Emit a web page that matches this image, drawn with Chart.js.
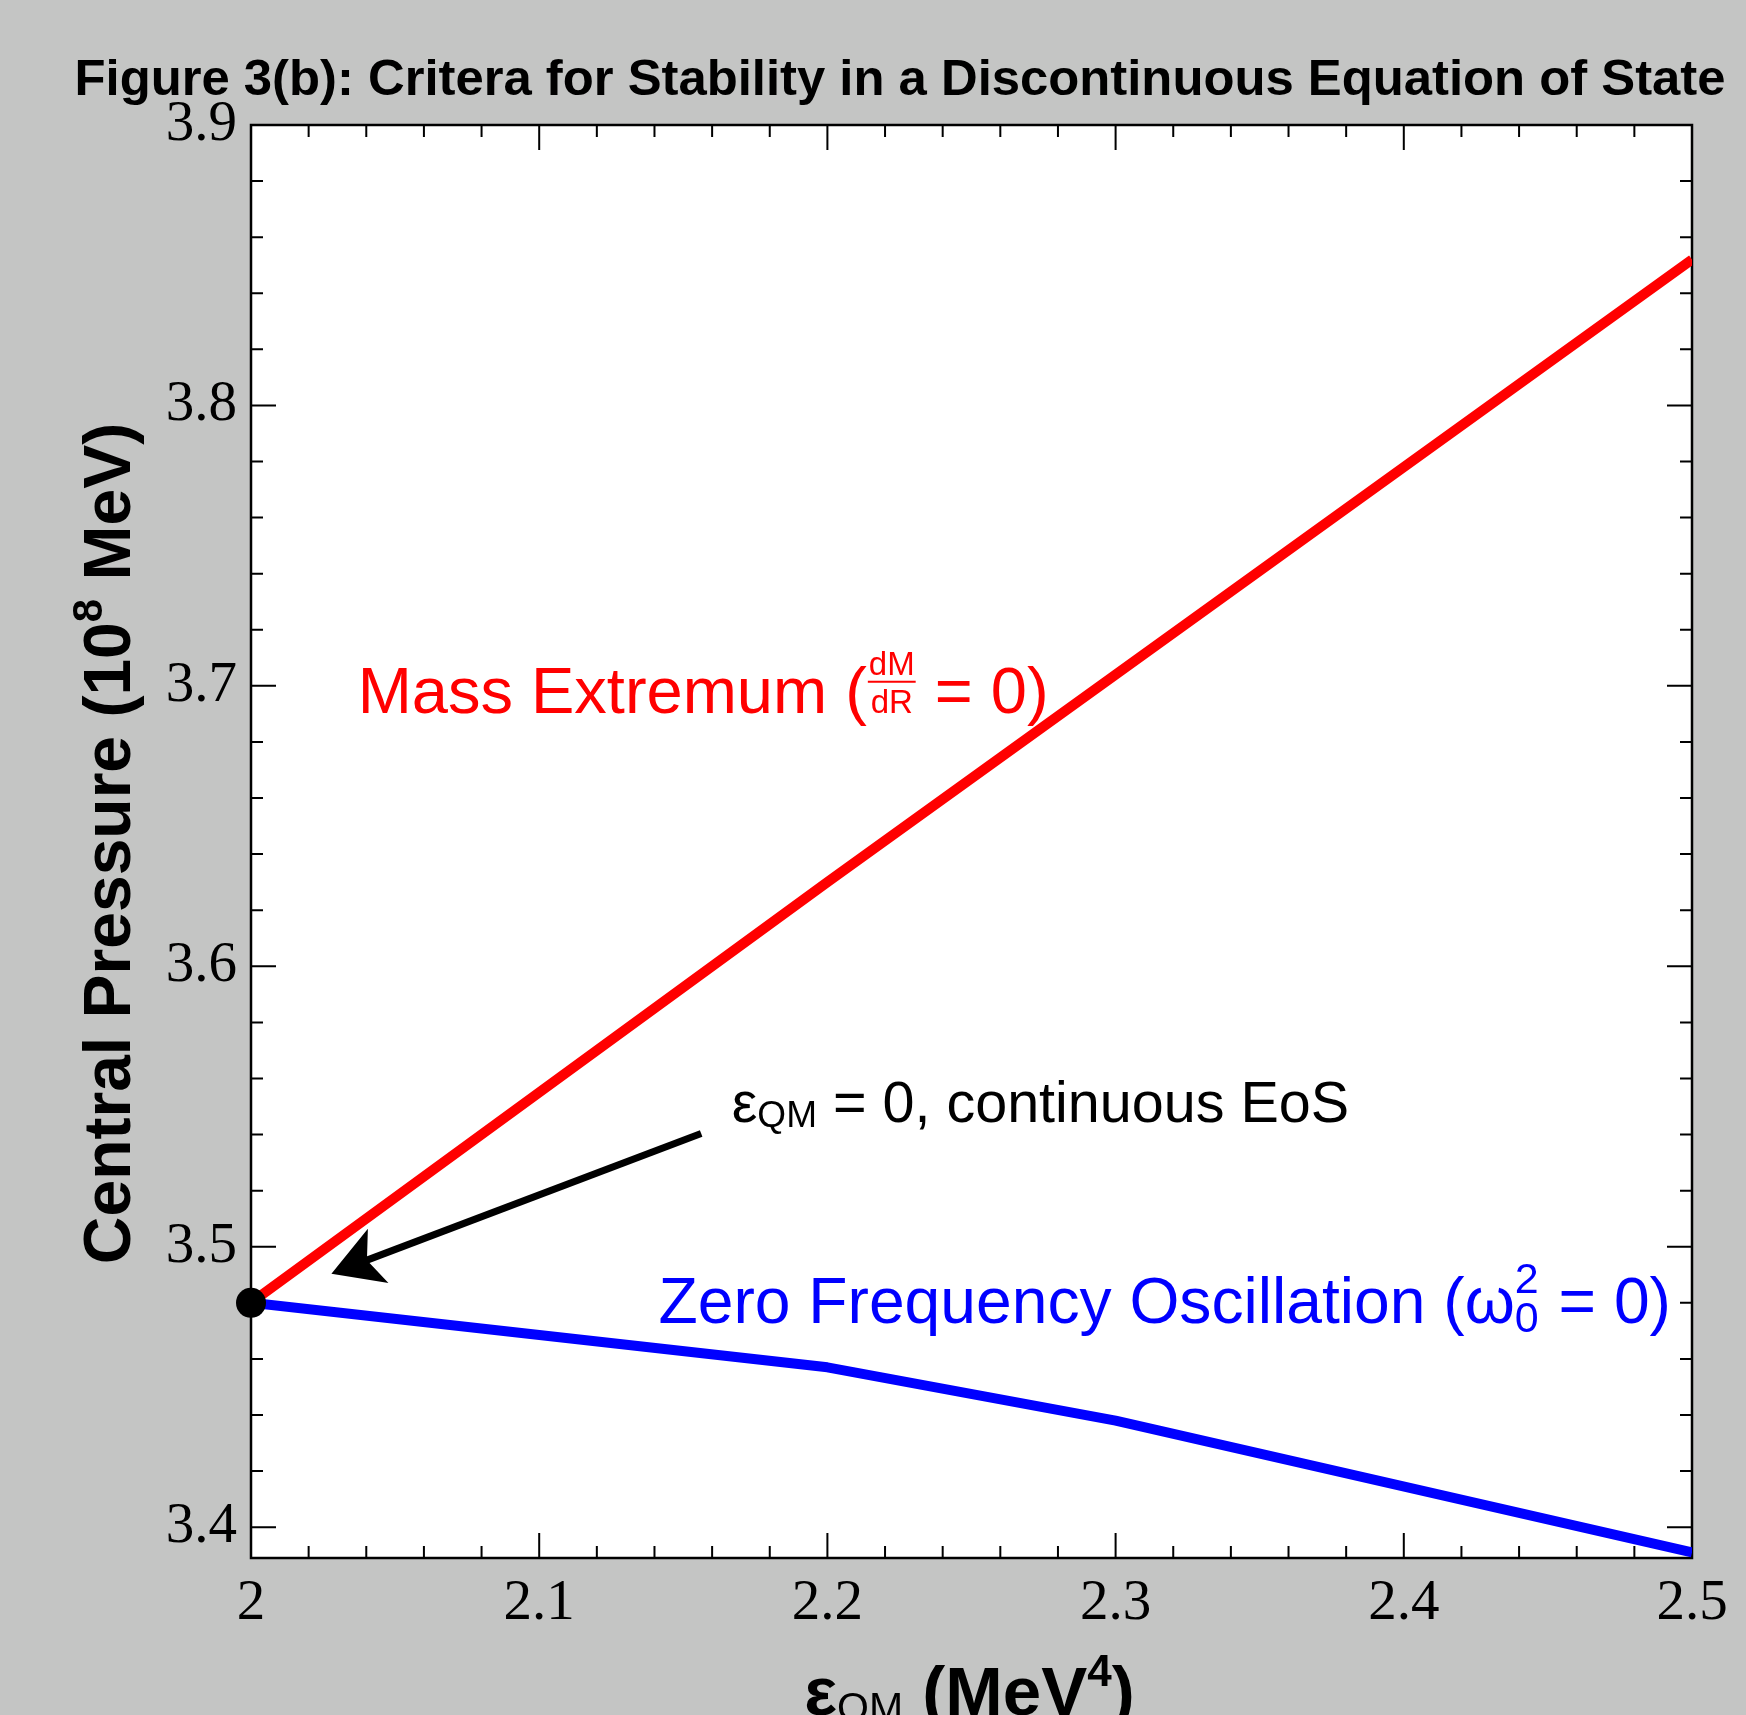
<!DOCTYPE html>
<html>
<head>
<meta charset="utf-8">
<script src="https://cdn.jsdelivr.net/npm/chart.js@4.4.1/dist/chart.umd.min.js"></script>
<style>
html, body { margin: 0; padding: 0; background: #c4c5c4; }
canvas { display: block; }
</style>
</head>
<body>
<canvas id="c" width="1746" height="1715"></canvas>
<script>
// ---------------- data ----------------
const xValues = [2.0, 2.2, 2.3, 2.5];
const massExtremum = [3.480, 3.630, 3.704, 3.852];
const zeroFrequency = [3.480, 3.457, 3.438, 3.391];
const junctionPoint = [{ x: 2.0, y: 3.48 }];
const xTickLabels = ['2', '2.1', '2.2', '2.3', '2.4', '2.5'];
const yTickLabels = ['3.4', '3.5', '3.6', '3.7', '3.8', '3.9'];
const xTicks = xTickLabels.map(Number);
const yTicks = yTickLabels.map(Number);
const xRange = [2.0, 2.5];
const yRange = [3.389, 3.9];
const minorStep = 0.02;

// ---------------- text helpers ----------------
const SANS = '"Liberation Sans", Arial, Helvetica, sans-serif';
function fnt(size, bold) { return (bold ? 'bold ' : '') + size + 'px ' + SANS; }
function runWidth(ctx, r) {
  ctx.font = fnt(r.size, r.bold);
  if (r.stack) {
    return Math.max(ctx.measureText(r.top).width, ctx.measureText(r.bottom).width) + (r.pad || 0);
  }
  return ctx.measureText(r.text).width;
}
function drawRuns(ctx, runs, x, y, align, color) {
  let total = 0;
  runs.forEach(r => total += runWidth(ctx, r));
  let cx = align === 'center' ? x - total / 2 : (align === 'right' ? x - total : x);
  ctx.save();
  ctx.fillStyle = color;
  ctx.strokeStyle = color;
  ctx.textBaseline = 'alphabetic';
  ctx.textAlign = 'left';
  runs.forEach(r => {
    const w = runWidth(ctx, r);
    ctx.font = fnt(r.size, r.bold);
    if (r.stack) {
      if (r.frac) {
        const wt = ctx.measureText(r.top).width, wb = ctx.measureText(r.bottom).width;
        const inner = w - (r.pad || 0);
        const ox = cx + (r.pad || 0) / 2;
        ctx.fillText(r.top, ox + (inner - wt) / 2, y + r.dyTop);
        ctx.fillText(r.bottom, ox + (inner - wb) / 2, y + r.dyBottom);
        ctx.lineWidth = 2;
        ctx.beginPath();
        ctx.moveTo(ox - 1, y + r.dyBar);
        ctx.lineTo(ox + inner + 1, y + r.dyBar);
        ctx.stroke();
      } else {
        ctx.fillText(r.top, cx, y + r.dyTop);
        ctx.fillText(r.bottom, cx, y + r.dyBottom);
      }
    } else {
      ctx.fillText(r.text, cx, y + (r.dy || 0));
    }
    cx += w;
  });
  ctx.restore();
}

// ---------------- decoration plugin ----------------
const decor = {
  id: 'decor',
  beforeDraw(chart) {
    const { ctx, chartArea: a } = chart;
    ctx.save();
    ctx.fillStyle = '#c4c5c4';
    ctx.fillRect(0, 0, chart.width, chart.height);
    ctx.fillStyle = '#ffffff';
    ctx.fillRect(a.left, a.top, a.right - a.left, a.bottom - a.top);
    ctx.restore();
  },
  beforeDatasetsDraw(chart) {
    const { ctx, chartArea: a, scales: { x, y } } = chart;
    ctx.save();
    ctx.strokeStyle = '#000';
    ctx.lineWidth = 2;
    const major = 25, minor = 12;
    const isMajor = (v, arr) => arr.some(t => Math.abs(t - v) < 1e-6);
    ctx.beginPath();
    for (let k = 0; ; k++) {
      const v = xRange[0] + k * minorStep;
      if (v > xRange[1] + 1e-9) break;
      const px = x.getPixelForValue(v);
      const len = isMajor(v, xTicks) ? major : minor;
      ctx.moveTo(px, a.bottom); ctx.lineTo(px, a.bottom - len);
      ctx.moveTo(px, a.top); ctx.lineTo(px, a.top + len);
    }
    for (let k = 0; ; k++) {
      const v = 3.38 + k * minorStep;
      if (v > yRange[1] + 1e-9) break;
      if (v < yRange[0] - 1e-9) continue;
      const py = y.getPixelForValue(v);
      const len = isMajor(v, yTicks) ? major : minor;
      ctx.moveTo(a.left, py); ctx.lineTo(a.left + len, py);
      ctx.moveTo(a.right, py); ctx.lineTo(a.right - len, py);
    }
    ctx.stroke();
    ctx.lineWidth = 2.5;
    ctx.strokeRect(a.left, a.top, a.right - a.left, a.bottom - a.top);
    ctx.restore();
  },
  afterDatasetsDraw(chart) {
    const { ctx, scales: { x, y } } = chart;
    const tail = { x: x.getPixelForValue(2.1562), y: y.getPixelForValue(3.5404) };
    const tip = { x: x.getPixelForValue(2.0279), y: y.getPixelForValue(3.4904) };
    const dx = tip.x - tail.x, dy = tip.y - tail.y, L = Math.hypot(dx, dy);
    const ux = dx / L, uy = dy / L, nx = -uy, ny = ux;
    const hl = 50, hw = 29, notch = 38;
    ctx.save();
    ctx.strokeStyle = '#000';
    ctx.fillStyle = '#000';
    ctx.lineWidth = 7;
    ctx.beginPath();
    ctx.moveTo(tail.x, tail.y);
    ctx.lineTo(tip.x - ux * (notch - 2), tip.y - uy * (notch - 2));
    ctx.stroke();
    ctx.beginPath();
    ctx.moveTo(tip.x, tip.y);
    ctx.lineTo(tip.x - ux * hl + nx * hw, tip.y - uy * hl + ny * hw);
    ctx.lineTo(tip.x - ux * notch, tip.y - uy * notch);
    ctx.lineTo(tip.x - ux * hl - nx * hw, tip.y - uy * hl - ny * hw);
    ctx.closePath();
    ctx.fill();
    ctx.restore();

    drawRuns(ctx, [
      { text: 'Mass Extremum (', size: 65 },
      { stack: true, frac: true, top: 'dM', bottom: 'dR', size: 33, pad: 4, dyTop: -37.5, dyBottom: 0, dyBar: -31 },
      { text: ' = 0)', size: 65 }
    ], x.getPixelForValue(2.037), y.getPixelForValue(3.6904), 'left', '#ff0000');

    drawRuns(ctx, [
      { text: 'Zero Frequency Oscillation (ω', size: 64.2 },
      { stack: true, top: '2', bottom: '0', size: 43, pad: 2, dyTop: -30.5, dyBottom: 8.5 },
      { text: ' = 0)', size: 64.2 }
    ], x.getPixelForValue(2.4927), y.getPixelForValue(3.4727), 'right', '#0000ff');

    drawRuns(ctx, [
      { text: 'ε', size: 57.5 },
      { text: 'QM', size: 37, dy: 5 },
      { text: ' = 0, continuous EoS', size: 57.5 }
    ], x.getPixelForValue(2.1668), y.getPixelForValue(3.5446), 'left', '#000000');
  },
  afterDraw(chart) {
    const { ctx, chartArea: a } = chart;
    drawRuns(ctx, [
      { text: 'Figure 3(b): Critera for Stability in a Discontinuous Equation of State', size: 50.8, bold: true }
    ], 900, 95, 'center', '#000');
    drawRuns(ctx, [
      { text: 'ε', size: 69, bold: true },
      { text: 'QM', size: 41, dy: 6 },
      { text: ' (MeV', size: 69, bold: true },
      { text: '4', size: 44, bold: true, dy: -29 },
      { text: ')', size: 69, bold: true }
    ], (a.left + a.right) / 2 - 2, a.bottom + 157, 'center', '#000');
    ctx.save();
    ctx.translate(130, (a.top + a.bottom) / 2 + 2);
    ctx.rotate(-Math.PI / 2);
    drawRuns(ctx, [
      { text: 'Central Pressure (10', size: 66, bold: true },
      { text: '8', size: 42, bold: true, dy: -28 },
      { text: ' MeV)', size: 66, bold: true }
    ], 0, 0, 'center', '#000');
    ctx.restore();
  }
};

// ---------------- chart ----------------
const tickFont = { family: '"Liberation Serif", "Times New Roman", serif', size: 57 };
new Chart(document.getElementById('c').getContext('2d'), {
  type: 'line',
  data: {
    datasets: [
      {
        label: 'εQM = 0, continuous EoS',
        data: junctionPoint,
        showLine: false,
        pointRadius: 15,
        pointBackgroundColor: '#000',
        pointBorderColor: '#000',
        pointBorderWidth: 0,
        clip: false
      },
      {
        label: 'Mass Extremum (dM/dR = 0)',
        data: xValues.map((v, i) => ({ x: v, y: massExtremum[i] })),
        borderColor: '#ff0000',
        borderWidth: 10,
        pointRadius: 0,
        tension: 0,
        borderJoinStyle: 'round',
        fill: false
      },
      {
        label: 'Zero Frequency Oscillation (ω0² = 0)',
        data: xValues.map((v, i) => ({ x: v, y: zeroFrequency[i] })),
        borderColor: '#0000ff',
        borderWidth: 10,
        pointRadius: 0,
        tension: 0,
        borderJoinStyle: 'round',
        fill: false
      }
    ]
  },
  options: {
    responsive: false,
    animation: false,
    devicePixelRatio: 1,
    layout: { padding: { top: 125, right: 54, left: 0, bottom: 0 } },
    plugins: { legend: { display: false }, tooltip: { enabled: false }, title: { display: false } },
    scales: {
      x: {
        type: 'linear',
        min: xRange[0], max: xRange[1],
        afterBuildTicks: s => { s.ticks = xTicks.map(v => ({ value: v })); },
        afterFit: s => { s.height = 157; },
        grid: { display: false, drawTicks: false },
        border: { display: false },
        ticks: {
          font: tickFont, color: '#000', padding: 12, maxRotation: 0, autoSkip: false,
          callback: v => xTickLabels[xTicks.findIndex(t => Math.abs(t - v) < 1e-9)]
        }
      },
      y: {
        type: 'linear',
        min: yRange[0], max: yRange[1],
        afterBuildTicks: s => { s.ticks = yTicks.map(v => ({ value: v })); },
        afterFit: s => { s.width = 251; },
        grid: { display: false, drawTicks: false },
        border: { display: false },
        ticks: {
          font: tickFont, color: '#000', padding: 14, autoSkip: false,
          callback: v => yTickLabels[yTicks.findIndex(t => Math.abs(t - v) < 1e-9)]
        }
      }
    }
  },
  plugins: [decor]
});
</script>
</body>
</html>
